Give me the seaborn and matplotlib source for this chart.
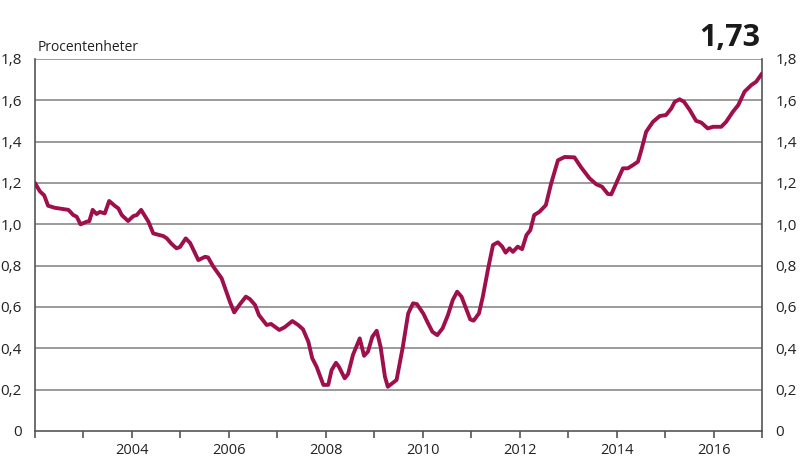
import matplotlib
matplotlib.use("Agg")
import matplotlib.pyplot as plt
import seaborn as sns
import pandas as pd
from matplotlib.ticker import FuncFormatter, MultipleLocator

years = [2002.0, 2002.1, 2002.19, 2002.27, 2002.41, 2002.69, 2002.79, 2002.86, 2002.94,
         2003.07, 2003.12, 2003.19, 2003.27, 2003.34, 2003.44, 2003.53, 2003.65, 2003.72,
         2003.79, 2003.92, 2004.03, 2004.10, 2004.19, 2004.34, 2004.44, 2004.65, 2004.72,
         2004.82, 2004.92, 2004.99, 2005.11, 2005.2, 2005.37, 2005.51, 2005.57, 2005.68,
         2005.85, 2006.02, 2006.11, 2006.23, 2006.35, 2006.43, 2006.54, 2006.62, 2006.78,
         2006.87, 2007.04, 2007.15, 2007.31, 2007.43, 2007.53, 2007.64, 2007.72, 2007.81,
         2007.95, 2008.05, 2008.12, 2008.21, 2008.27, 2008.39, 2008.46, 2008.56, 2008.70,
         2008.79, 2008.87, 2008.96, 2009.05, 2009.13, 2009.22, 2009.28, 2009.46, 2009.59,
         2009.70, 2009.80, 2009.88, 2010.01, 2010.11, 2010.20, 2010.30, 2010.41, 2010.52,
         2010.62, 2010.71, 2010.80, 2010.90, 2010.98, 2011.05, 2011.16, 2011.24, 2011.35,
         2011.45, 2011.55, 2011.64, 2011.71, 2011.79, 2011.86, 2011.96, 2012.05, 2012.14,
         2012.22, 2012.30, 2012.41, 2012.54, 2012.65, 2012.79, 2012.93, 2013.13, 2013.27,
         2013.44, 2013.58, 2013.70, 2013.82, 2013.89, 2013.99, 2014.13, 2014.23, 2014.34,
         2014.44, 2014.51, 2014.61, 2014.75, 2014.89, 2015.02, 2015.13, 2015.20, 2015.30,
         2015.39, 2015.51, 2015.64, 2015.75, 2015.88, 2015.99, 2016.16, 2016.26, 2016.40,
         2016.51, 2016.64, 2016.78, 2016.88, 2017.0]

values = [1.20, 1.16, 1.14, 1.09, 1.08, 1.07, 1.045, 1.037, 1.00,
          1.013, 1.015, 1.07, 1.05, 1.06, 1.053, 1.113, 1.089, 1.077,
          1.045, 1.016, 1.04, 1.045, 1.07, 1.013, 0.956, 0.943, 0.932,
          0.905, 0.884, 0.89, 0.932, 0.91, 0.827, 0.843, 0.84, 0.795,
          0.739, 0.626, 0.574, 0.614, 0.65, 0.639, 0.61, 0.561, 0.513,
          0.518, 0.489, 0.502, 0.532, 0.513, 0.492, 0.432, 0.352, 0.311,
          0.223, 0.223, 0.295, 0.33, 0.311, 0.255, 0.276, 0.368, 0.448,
          0.364, 0.384, 0.456, 0.485, 0.408, 0.263, 0.214, 0.247, 0.408,
          0.569, 0.618, 0.614, 0.569, 0.521, 0.48, 0.464, 0.497, 0.561,
          0.634, 0.674, 0.65, 0.589, 0.54, 0.534, 0.569, 0.65, 0.787,
          0.9, 0.913, 0.892, 0.863, 0.884, 0.867, 0.892, 0.88, 0.948,
          0.972, 1.045, 1.061, 1.093, 1.198, 1.31, 1.326, 1.324, 1.275,
          1.223, 1.194, 1.182, 1.147, 1.145, 1.198, 1.271, 1.271, 1.287,
          1.303, 1.359, 1.448, 1.496, 1.524, 1.529, 1.561, 1.593, 1.605,
          1.593, 1.553, 1.501, 1.492, 1.464, 1.472, 1.472, 1.496, 1.545,
          1.577, 1.642, 1.674, 1.69, 1.73]

y_ticks = [0, 0.2, 0.4, 0.6, 0.8, 1.0, 1.2, 1.4, 1.6, 1.8]
x_labels = [2004, 2006, 2008, 2010, 2012, 2014, 2016]
unit_label = "Procentenheter"
last_label = "1,73"

sns.set_style("white")
plt.rcParams['font.family'] = ['Open Sans', 'DejaVu Sans']

df = pd.DataFrame({"year": years, "value": values})

fig = plt.figure(figsize=(8, 4.76), dpi=100)
ax = fig.add_axes([35/800, 45/476, (762-35)/800, (431-59)/476])

sns.lineplot(data=df, x="year", y="value", ax=ax, color="#9e0f4c",
             linewidth=2.8, solid_joinstyle="round", solid_capstyle="round", zorder=3)

ax.set_xlim(2002, 2017)
ax.set_ylim(0, 1.8)
ax.set_yticks(y_ticks)


def fmt(v, p):
    if abs(v) < 1e-9:
        return "0"
    return ("%.1f" % v).replace(".", ",")


ax.yaxis.set_major_formatter(FuncFormatter(fmt))
ax.set_xticks(x_labels)
ax.xaxis.set_minor_locator(MultipleLocator(1))
ax.set_xlabel("")
ax.set_ylabel("")

for v in y_ticks[1:]:
    ax.axhline(v, color="#8a8a8a", linewidth=1.2, zorder=1)

ax.spines["top"].set_visible(False)
for s in ["left", "right", "bottom"]:
    ax.spines[s].set_color("#555555")
    ax.spines[s].set_linewidth(1.2)

ax.tick_params(axis="y", which="both", left=False, right=False, labelleft=True,
               labelright=True, labelsize=11, colors="#222222", pad=6)
ax.tick_params(axis="x", which="both", bottom=True, direction="out", length=5,
               width=1.2, color="#555555", labelsize=10.5, labelcolor="#222222", pad=4)

fig.text(38/800, 1 - 51/476, unit_label, fontsize=10, color="#222222",
         ha="left", va="baseline")
fig.text(760/800, 1 - 46/476, last_label, fontsize=22, fontweight="bold",
         color="#1a1a1a", ha="right", va="baseline")

fig.savefig("out.png", dpi=100)
